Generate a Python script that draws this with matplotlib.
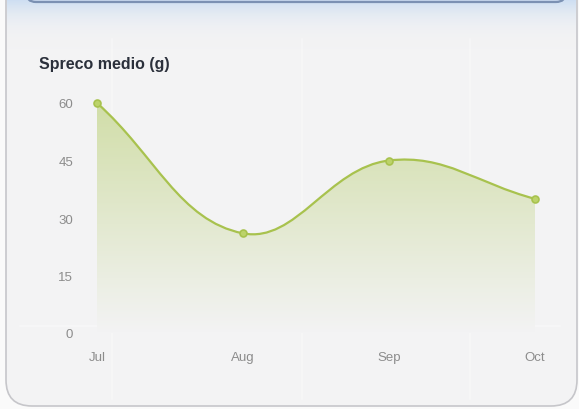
import numpy as np
import matplotlib
matplotlib.use("Agg")
import matplotlib.pyplot as plt
from matplotlib.path import Path
from matplotlib.patches import PathPatch, FancyBboxPatch
from matplotlib.colors import LinearSegmentedColormap

months = ["Jul", "Aug", "Sep", "Oct"]
waste = [60, 26, 45, 35]
y_ticks = [0, 15, 30, 45, 60]
title = "Spreco medio (g)"

W, H = 579, 410
line_col = "#a8c24e"
bg_col = "#f3f3f4"

plt.rcParams["font.family"] = ["Liberation Sans", "DejaVu Sans"]

fig = plt.figure(figsize=(W / 100, H / 100), dpi=100)
fig.patch.set_facecolor("#fafafa")

# background layer in pixel coordinates
bg = fig.add_axes([0, 0, 1, 1])
bg.set_xlim(0, W)
bg.set_ylim(H, 0)
bg.axis("off")

card = FancyBboxPatch((6, -40), 571, 447, boxstyle="round,pad=0,rounding_size=26",
                      facecolor=bg_col, edgecolor="#c6c6ca", lw=1.2)
bg.add_patch(card)

# blue glow under the top panel
glow = np.linspace(1, 0, 60)[:, None] ** 1.4 * np.ones((1, 10))
glow_cmap = LinearSegmentedColormap.from_list("glow", [(0.953, 0.953, 0.957, 0), (0.80, 0.87, 0.95, 1)])
im = bg.imshow(glow, extent=(7, 576, 52, 0), cmap=glow_cmap, aspect="auto", zorder=2)
im.set_clip_path(card)

top_bar = FancyBboxPatch((26, -20), 540, 23, boxstyle="round,pad=0,rounding_size=10",
                         facecolor="#c8d8ee", edgecolor="#7b91b3", lw=1.6, zorder=3)
bg.add_patch(top_bar)

# faint white streaks of the grid
for gx in [112, 302, 470]:
    bg.plot([gx, gx], [40, 400], color="white", lw=1.2, alpha=0.3, zorder=2)
bg.plot([20, 560], [327, 327], color="white", lw=1.2, alpha=0.35, zorder=2)

bg.text(39, 65, title, fontsize=11.5, fontweight="bold", color="#2b303b",
        ha="left", va="center")

# chart axes: x 0->97px, 3->535px ; y 0->334px, 60->104px
px_x = 146.0
px_y = 230.0 / 60
ax_l, ax_r, ax_t, ax_b = 80, 556, 92, 334
ax = fig.add_axes([ax_l / W, (H - ax_b) / H, (ax_r - ax_l) / W, (ax_b - ax_t) / H])
ax.set_facecolor("none")
ax.set_xlim(-(97 - ax_l) / px_x, 3 + (ax_r - 535) / px_x)
ax.set_ylim(0, (ax_b - ax_t) / px_y)

# chart.js style spline (tension 0.4) computed in pixel space
xs = np.arange(len(months)) * px_x
ys = np.array(waste, dtype=float) * px_y
pts = np.c_[xs, ys]
n = len(pts)
cp_prev = np.zeros_like(pts)
cp_next = np.zeros_like(pts)
t = 0.4
for i in range(n):
    p0 = pts[i - 1] if i > 0 else pts[i]
    p1 = pts[i]
    p2 = pts[i + 1] if i < n - 1 else pts[i]
    d01 = np.hypot(*(p1 - p0))
    d12 = np.hypot(*(p2 - p1))
    s01 = d01 / (d01 + d12)
    s12 = d12 / (d01 + d12)
    cp_prev[i] = p1 - t * s01 * (p2 - p0)
    cp_next[i] = p1 + t * s12 * (p2 - p0)

verts = [tuple(pts[0])]
codes = [Path.MOVETO]
for i in range(n - 1):
    verts += [tuple(cp_next[i]), tuple(cp_prev[i + 1]), tuple(pts[i + 1])]
    codes += [Path.CURVE4] * 3
verts = [(vx / px_x, vy / px_y) for vx, vy in verts]
curve = Path(verts, codes)

fill_path = Path(verts + [(n - 1, 0), (0, 0), verts[0]],
                 codes + [Path.LINETO, Path.LINETO, Path.CLOSEPOLY])
fill_patch = PathPatch(fill_path, facecolor="none", edgecolor="none")
ax.add_patch(fill_patch)
grad = np.linspace(1, 0, 200)[:, None] * np.ones((1, 10))
grad_cmap = LinearSegmentedColormap.from_list(
    "fill", [(0.953, 0.953, 0.957), (0.82, 0.87, 0.66)])
gim = ax.imshow(grad, extent=(0, n - 1, 0, max(waste)), cmap=grad_cmap,
                aspect="auto", zorder=1)
gim.set_clip_path(fill_patch)

ax.add_patch(PathPatch(curve, facecolor="none", edgecolor=line_col, lw=1.6, zorder=3))
ax.plot(range(n), waste, "o", ms=5, mfc="#bcd36a", mec=line_col, mew=1.2,
        zorder=4, clip_on=False)

ax.set_xticks(range(n))
ax.set_xticklabels(months)
ax.set_yticks(y_ticks)
ax.tick_params(length=0, labelsize=9.5, labelcolor="#8c8c8c")
ax.tick_params(axis="x", pad=13)
ax.tick_params(axis="y", pad=5)
for s in ax.spines.values():
    s.set_visible(False)

fig.savefig("out.png", dpi=100)
